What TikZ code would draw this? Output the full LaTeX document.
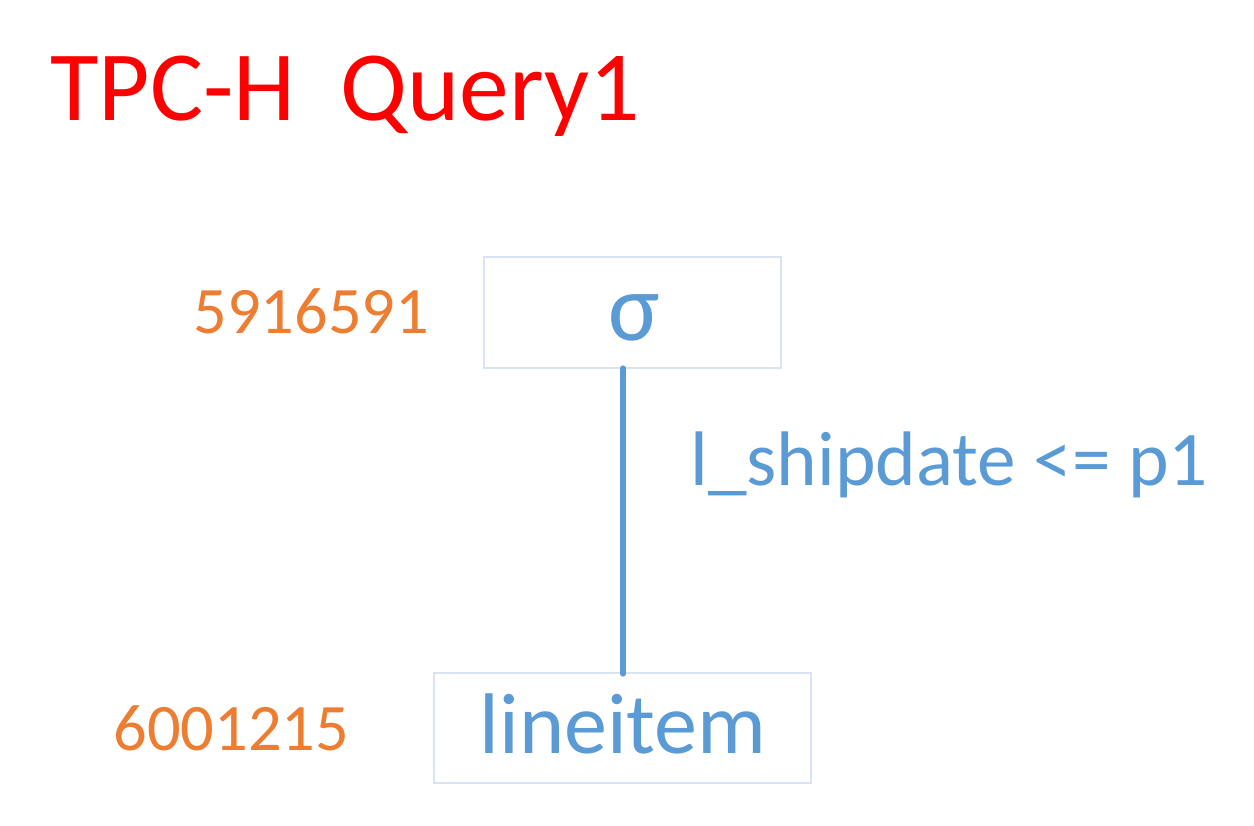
\documentclass[tikz,border=0pt]{standalone}
\usepackage{fontspec}
\setmainfont{Carlito}
\definecolor{tblue}{HTML}{5B9BD5}
\definecolor{torange}{HTML}{ED7D31}
\definecolor{tborder}{HTML}{DAE3F3}
\begin{document}
\begin{tikzpicture}[x=0.02cm,y=-0.02cm,
  opbox/.style={draw=tborder,line width=0.8pt,inner sep=0pt},
  card/.style={text=torange,font=\fontsize{37.8}{42}\selectfont,anchor=base west,inner sep=0pt},
  edge/.style={draw=tblue,line width=3pt,line cap=round}]
\useasboundingbox (0,0) rectangle (1254,825);
\node[text=red,font=\fontsize{56.6}{60}\selectfont,anchor=base west,inner sep=0pt] (title) at (50,120) {TPC-H\ \ Query1};
\node[opbox,minimum width=297*0.02cm,minimum height=111*0.02cm] (sel) at (632.5,312.5) {};
\node[opbox,minimum width=377*0.02cm,minimum height=110*0.02cm] (li) at (622.5,728) {};
\node[text=tblue,font=\fontsize{55}{58}\selectfont,inner sep=0pt] (sigma) at (634,318) {σ};
\node[text=tblue,font=\fontsize{49}{54}\selectfont,anchor=base,inner sep=0pt] (lit) at (623,753) {lineitem};
\node[card] (c1) at (193,333) {5916591};
\node[card] (c2) at (113,750) {6001215};
\coordinate (top) at (623,368);
\coordinate (bot) at (623,674);
\draw[edge] (top) -- (bot);
\node[text=tblue,font=\fontsize{44}{48}\selectfont,anchor=base west,inner sep=0pt] (lab) at (690,485) {l\_shipdate <= p1};
\end{tikzpicture}
\end{document}
